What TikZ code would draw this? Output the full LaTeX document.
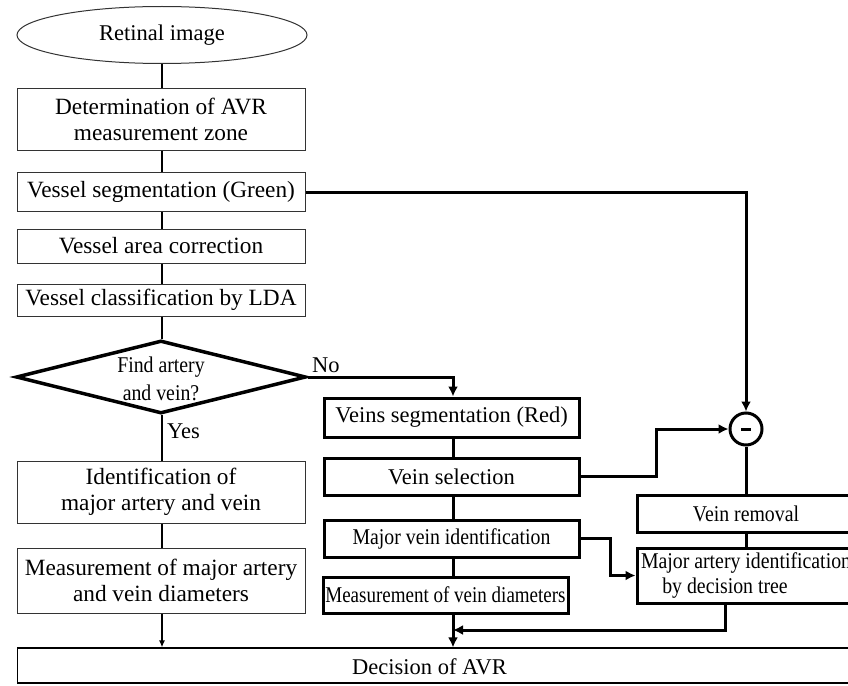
\documentclass[tikz,border=0pt]{standalone}
\usepackage{fontspec}
\setmainfont{Liberation Serif}
\usetikzlibrary{shapes.geometric,arrows.meta}
\newcommand{\cn}[2][0.88]{\scalebox{#1}[1]{#2}}
\begin{document}
\begin{tikzpicture}[x=1pt,y=-1pt,
  font=\fontsize{23.3}{26}\selectfont,
  thinbox/.style={draw=black!80, line width=1pt, minimum width=288, inner sep=0, align=center},
  heavybox/.style={draw=black, line width=3pt, inner sep=0, align=center, font=\fontsize{22.5}{25}\selectfont},
  thinline/.style={line width=1.6pt},
  heavy/.style={line width=3pt},
  arr/.style={-{Latex[length=10pt,width=10pt]}},
  smallarr/.style={-{Latex[length=7pt,width=6pt]}},
  lbl/.style={inner sep=0, anchor=west}]
\useasboundingbox (0,0) rectangle (848,685);
\fill[white] (0,0) rectangle (848,685);

% left column
\node[draw=black!80, line width=1pt, ellipse, minimum width=290, minimum height=57, inner sep=0, font=\fontsize{22.5}{26}\selectfont] (ell) at (162,35) {Retinal image};
\node[thinbox, minimum height=62] (det) at (161,119) {Determination of AVR\\measurement zone};
\node[thinbox, minimum height=39] (seg) at (161,192) {Vessel segmentation (Green)};
\node[thinbox, minimum height=34] (area) at (161,246) {Vessel area correction};
\node[thinbox, minimum height=32] (lda) at (161,300) {Vessel classification by LDA};
\node[draw, diamond, line width=3.5pt, minimum width=290, minimum height=73, inner sep=0] (dia) at (161,377) {};
\node[align=center, inner sep=0, font=\fontsize{22.5}{28}\selectfont] (diat) at (161,379) {\cn{Find artery}\\\cn{and vein?}};
\node[thinbox, minimum height=62] (idn) at (161,492) {Identification of\\major artery and vein};
\node[thinbox, minimum height=65] (meas) at (161,580.5) {Measurement of major artery\\and vein diameters};
\node[draw, line width=1.2pt, anchor=west, minimum width=900, minimum height=35, inner sep=0] (dec) at (17,665.5) {};
\node[inner sep=0, font=\fontsize{22.5}{26}\selectfont] (dect) at (429.5,667) {Decision of AVR};

\node[lbl, font=\fontsize{22.5}{26}\selectfont] (yes) at (167,431) {Yes};
\node[lbl, font=\fontsize{22.5}{26}\selectfont] (no) at (312,365) {No};

% right column
\node[heavybox, minimum width=255, minimum height=39] (vseg) at (451.5,417.5) {Veins segmentation (Red)};
\node[heavybox, minimum width=255, minimum height=37] (vsel) at (451.5,476.5) {Vein selection};
\node[heavybox, minimum width=255, minimum height=37] (mvid) at (451.5,538.5) {\cn{Major vein identification}};
\node[heavybox, minimum width=245, minimum height=36] (mvd) at (445.5,595) {\cn[0.845]{Measurement of vein diameters}};
\node[draw, circle, line width=3pt, minimum size=32, inner sep=0] (circ) at (746,429) {};
\draw[line width=3pt] (circ.center) ++(-5,0) -- ++(10,0);
\node[heavybox, minimum width=218, minimum height=37] (vrem) at (746,513.5) {\cn{Vein removal}};
\node[heavybox, minimum width=218, minimum height=55] (mart) at (746,575.5) {\cn{Major artery identification}\\\cn{by decision tree}\hbox to 42pt{}};

% left connectors
\draw[thinline] (ell.south) -- (ell.south |- det.north);
\draw[thinline] (det.south -| ell.south) -- (seg.north -| ell.south);
\draw[thinline] (seg.south -| ell.south) -- (area.north -| ell.south);
\draw[thinline] (area.south -| ell.south) -- (lda.north -| ell.south);
\draw[thinline] (lda.south -| ell.south) -- (dia.north -| ell.south);
\draw[thinline] (dia.south -| ell.south) -- (idn.north -| ell.south);
\draw[thinline] (idn.south -| ell.south) -- (meas.north -| ell.south);
\draw[thinline, smallarr] (meas.south -| ell.south) -- (dec.north -| ell.south);

% right connectors
\coordinate (spine) at (453,0);
\coordinate (k1) at (656,0);
\coordinate (k2) at (610,0);
\coordinate (j1) at (725,630);
\draw[heavy, arr] (dia.east) -- (dia.east -| spine) -- (vseg.north -| spine);
\draw[heavy] (vseg.south -| spine) -- (vsel.north -| spine);
\draw[heavy] (vsel.south -| spine) -- (mvid.north -| spine);
\draw[heavy] (mvid.south -| spine) -- (mvd.north -| spine);
\draw[heavy, arr] (mvd.south -| spine) -- (dec.north -| spine);
\draw[heavy, arr] (seg.east) -- (seg.east -| circ) -- (circ.north);
\draw[heavy, arr] (vsel.east) -- (vsel.east -| k1) -- (circ.west -| k1) -- (circ.west);
\draw[heavy, arr] (mvid.east) -- (mvid.east -| k2) -- (mart.west -| k2) -- (mart.west);
\draw[heavy] (circ.south) -- (circ.south |- vrem.north);
\draw[heavy] (vrem.south) -- (mart.north);
\draw[heavy, arr] (mart.south -| j1) -- (j1) -- (j1 -| spine);
\end{tikzpicture}
\end{document}
